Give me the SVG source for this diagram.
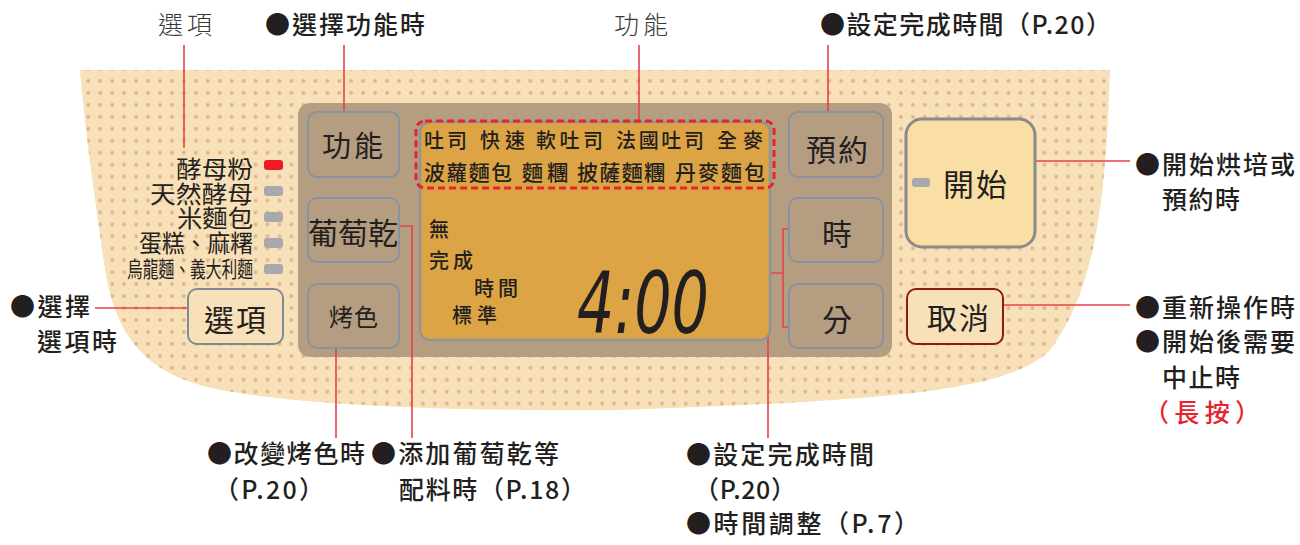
<svg xmlns="http://www.w3.org/2000/svg" width="1300" height="545" viewBox="0 0 1300 545">
<style>
.t{font-family:"Noto Sans CJK TC","Noto Sans CJK SC",sans-serif;fill:#231f20}
.lb{font-size:25px;font-weight:500}
.gr{fill:#3a3a3a;font-weight:300}
.lcd{font-size:20px;font-weight:500}
.lcd2{font-size:21px;font-weight:500}
.bt{fill:#b59d82;stroke:#8793a0;stroke-width:2}
.bk{font-size:30px;text-anchor:middle}
.ln{stroke:#e8414a;stroke-width:1.6;fill:none}
.ind{fill:#a7a9ac}
</style>
<defs>
<pattern id="dots" patternUnits="userSpaceOnUse" x="82.3" y="75" width="11.95" height="11.95">
<circle cx="6" cy="6" r="1.9" fill="#dcb58d"/>
</pattern>
</defs>
<rect width="1300" height="545" fill="#ffffff"/>
<g id="panel-bg">
<path d="M80,70 L1110,70 C1106,200 1095,290 1050,350 C1010,390 900,400 620,410 C420,412 260,402 200,385 C140,368 115,330 105,270 C95,200 85,130 80,70 Z" fill="#f8e1b8"/>
<path d="M80,70 L1110,70 C1106,200 1095,290 1050,350 C1010,390 900,400 620,410 C420,412 260,402 200,385 C140,368 115,330 105,270 C95,200 85,130 80,70 Z" fill="url(#dots)"/>
<rect x="298" y="103" width="594" height="254" rx="12" fill="#b59d82"/>
</g>
<g id="connectors">
<line class="ln" x1="184" y1="45" x2="184" y2="148"/>
<line class="ln" x1="344" y1="45" x2="344" y2="127"/>
<line class="ln" x1="639" y1="45" x2="639" y2="120"/>
<line class="ln" x1="828" y1="45" x2="828" y2="125"/>
<line class="ln" x1="1016" y1="161" x2="1130" y2="161"/>
<line class="ln" x1="995" y1="305" x2="1130" y2="305"/>
<line class="ln" x1="95" y1="308" x2="193" y2="308"/>
<polyline class="ln" points="807,229 783,229 783,327 807,327"/>
<polyline class="ln" points="783,273 768,273 768,438"/>
<polyline class="ln" points="397,226 412,226 412,438"/>
<line class="ln" x1="336" y1="339" x2="336" y2="438"/>
</g>
<g id="lcd">
<rect x="420" y="122" width="350" height="218" rx="10" fill="#dca444" stroke="#8f9499" stroke-width="2.5"/>
<rect x="416" y="121" width="358" height="67" rx="9" fill="none" stroke="#e8232a" stroke-width="3" stroke-dasharray="7 4"/>
<text class="t lcd" x="424" y="148" textLength="43">吐司</text>
<text class="t lcd" x="480" y="148" textLength="45">快速</text>
<text class="t lcd" x="536" y="148" textLength="67">軟吐司</text>
<text class="t lcd" x="616" y="148" textLength="88">法國吐司</text>
<text class="t lcd" x="717" y="148" textLength="46">全麥</text>
<text class="t lcd2" x="424" y="180" textLength="88">波蘿麵包</text>
<text class="t lcd2" x="522" y="180" textLength="46">麵糰</text>
<text class="t lcd2" x="577" y="180" textLength="88">披薩麵糰</text>
<text class="t lcd2" x="675" y="180" textLength="90">丹麥麵包</text>
<text class="t lcd" x="429" y="237">無</text>
<text class="t lcd" x="429" y="268" textLength="44">完成</text>
<text class="t lcd" x="474" y="296" textLength="44">時間</text>
<text class="t lcd" x="452" y="323" textLength="45">標準</text>
<text x="577" y="333" font-family="DejaVu Sans" font-style="oblique" font-size="86" fill="#231f20" textLength="132" lengthAdjust="spacingAndGlyphs">4:00</text>
</g>
<g id="btn-function"><rect class="bt" x="308" y="112" width="91" height="65" rx="9"/><text class="t" x="354" y="157" font-size="29" text-anchor="middle" letter-spacing="3">功能</text></g>
<g id="btn-raisin"><rect class="bt" x="308" y="198" width="91" height="64" rx="9"/><text class="t bk" x="353" y="244">葡萄乾</text></g>
<g id="btn-crust"><rect class="bt" x="308" y="284" width="91" height="64" rx="9"/><text class="t" x="354" y="326" font-size="24" text-anchor="middle" letter-spacing="1">烤色</text></g>
<g id="btn-timer"><rect class="bt" x="789" y="112" width="94" height="65" rx="9"/><text class="t bk" x="838" y="161" letter-spacing="2">預約</text></g>
<g id="btn-hour"><rect class="bt" x="789" y="198" width="94" height="64" rx="9"/><text class="t bk" x="837" y="245">時</text></g>
<g id="btn-min"><rect class="bt" x="789" y="284" width="94" height="64" rx="9"/><text class="t bk" x="837" y="331">分</text></g>
<g id="btn-start"><rect x="906" y="119" width="129" height="128" rx="16" fill="#fadfa4" stroke="#8a8a8a" stroke-width="3"/><rect class="ind" x="912" y="178" width="18" height="9" rx="3"/><text class="t" x="976" y="196" font-size="31" text-anchor="middle" letter-spacing="2">開始</text></g>
<g id="btn-cancel"><rect x="907" y="289" width="96" height="55" rx="9" fill="#f8e1b8" stroke="#8b1a1a" stroke-width="2"/><text class="t bk" x="959" y="329" letter-spacing="2">取消</text></g>
<g id="btn-option"><rect x="188" y="289" width="95" height="55" rx="9" fill="#f8e1b8" stroke="#7f8a94" stroke-width="2"/><text class="t bk" x="236" y="331" letter-spacing="2">選項</text></g>
<g id="options-list">
<text class="t" font-size="24" lengthAdjust="spacingAndGlyphs"><tspan x="176" y="178" textLength="77" lengthAdjust="spacingAndGlyphs">酵母粉</tspan><tspan x="150" y="203" textLength="103" lengthAdjust="spacingAndGlyphs">天然酵母</tspan><tspan x="177" y="227" textLength="76" lengthAdjust="spacingAndGlyphs">米麵包</tspan><tspan x="139" y="252" textLength="114" lengthAdjust="spacingAndGlyphs">蛋糕、麻糬</tspan><tspan x="127" y="277" font-size="22" textLength="126" lengthAdjust="spacingAndGlyphs">烏龍麵、義大利麵</tspan></text>
<rect x="264" y="160" width="19" height="10" rx="3" fill="#ed1c24"/>
<rect class="ind" x="264" y="186" width="19" height="10" rx="3"/>
<rect class="ind" x="264" y="212" width="19" height="10" rx="3"/>
<rect class="ind" x="264" y="238" width="19" height="10" rx="3"/>
<rect class="ind" x="264" y="264" width="19" height="10" rx="3"/>
</g>
<g id="label-option-top"><text class="t lb gr" x="158" y="34" textLength="54">選項</text></g>
<g id="label-function-select"><text class="t lb" x="265" y="34" textLength="160">●選擇功能時</text></g>
<g id="label-function-top"><text class="t lb gr" x="614" y="34" textLength="54">功能</text></g>
<g id="label-timer-top"><text class="t lb" x="820" y="34" textLength="291">●設定完成時間（P.20）</text></g>
<g id="label-start"><text class="t lb" x="1135" y="174" textLength="160">●開始烘培或</text><text class="t lb" x="1162" y="209" textLength="78">預約時</text></g>
<g id="label-cancel"><text class="t lb" x="1135" y="317" textLength="160">●重新操作時</text><text class="t lb" x="1135" y="351" textLength="160">●開始後需要</text><text class="t lb" x="1162" y="387" textLength="78">中止時</text><text class="t lb" x="1144" y="422" textLength="116" style="fill:#e8232a">（長按）</text></g>
<g id="label-option-left"><text class="t lb" x="10" y="316" textLength="80">●選擇</text><text class="t lb" x="37" y="351" textLength="80">選項時</text></g>
<g id="label-crust"><text class="t lb" x="207" y="463" textLength="158">●改變烤色時</text><text class="t lb" x="214" y="499" textLength="110">（P.20）</text></g>
<g id="label-raisin"><text class="t lb" x="371" y="463" textLength="188">●添加葡萄乾等</text><text class="t lb" x="399" y="499" textLength="187">配料時（P.18）</text></g>
<g id="label-time"><text class="t lb" x="686" y="464" textLength="188">●設定完成時間</text><text class="t lb" x="694" y="499" textLength="102">（P.20）</text><text class="t lb" x="686" y="533" textLength="233">●時間調整（P.7）</text></g>
</svg>
